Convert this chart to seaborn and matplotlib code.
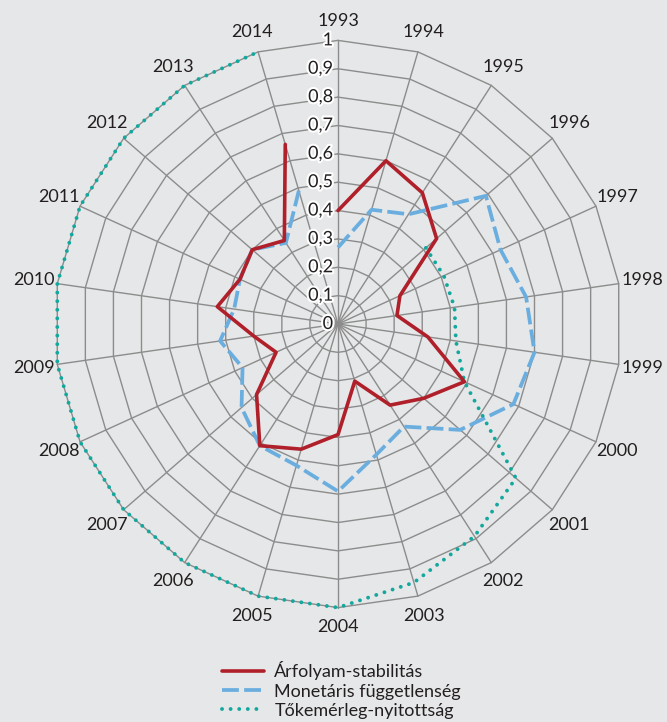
import numpy as np
import pandas as pd
import matplotlib
matplotlib.use("Agg")
import matplotlib.pyplot as plt
import matplotlib.patheffects as pe
import matplotlib.transforms as mtransforms
import seaborn as sns

# ---------------- data ----------------
years = [str(y) for y in range(1993, 2015)]
arfolyam = [0.40, 0.60, 0.55, 0.46, 0.24, 0.21, 0.32, 0.49, 0.40, 0.34, 0.21,
            0.39, 0.46, 0.51, 0.38, 0.24, 0.30, 0.43, 0.38, 0.40, 0.35, 0.66]
monetaris = [0.27, 0.42, 0.46, 0.69, 0.63, 0.67, 0.70, 0.68, 0.57, 0.43, 0.48,
             0.59, 0.52, 0.51, 0.45, 0.37, 0.42, 0.37, 0.38, 0.40, 0.34, 0.49]
tokemerleg = [np.nan, np.nan, np.nan, 0.41, 0.41, 0.415, 0.42, 0.49, 0.83, 0.89, 0.95,
              1.0, 1.0, 1.0, 1.0, 1.0, 1.0, 1.0, 1.0, 1.0, 1.0, 1.0]
series_names = ["Árfolyam-stabilitás", "Monetáris függetlenség", "Tőkemérleg-nyitottság"]
r_ticks = [0, 0.1, 0.2, 0.3, 0.4, 0.5, 0.6, 0.7, 0.8, 0.9, 1.0]
r_tick_labels = ["0", "0,1", "0,2", "0,3", "0,4", "0,5", "0,6", "0,7", "0,8", "0,9", "1"]

# ---------------- style ----------------
sns.set_style("white")
plt.rcParams["font.family"] = ["Lato", "DejaVu Sans"]
BG = "#e6e7e8"
GRID = "#8c8c8c"
TXT = "#231f20"
colors = ["#b0202a", "#6aaee0", "#13a89e"]

n = len(years)
theta = np.arange(n) * 2 * np.pi / n
df = pd.DataFrame({"theta": theta, "year": years,
                   series_names[0]: arfolyam,
                   series_names[1]: monetaris,
                   series_names[2]: tokemerleg})

fig = plt.figure(figsize=(6.67, 7.22), dpi=100, facecolor=BG)
cx, cy, R = 338, 324, 283.6
W, H = 667, 722
ax = fig.add_axes([(cx - R) / W, (H - cy - R) / H, 2 * R / W, 2 * R / H], projection="polar")
ax.set_theta_zero_location("N")
ax.set_theta_direction(-1)
ax.set_ylim(0, 1)
ax.grid(False)
ax.set_xticks([])
ax.set_yticks([])
ax.spines["polar"].set_visible(False)
ax.patch.set_visible(False)

# polygon grid
theta_closed = np.append(theta, theta[0])
for r in r_ticks[1:]:
    ax.plot(theta_closed, [r] * len(theta_closed), color=GRID, lw=1.0, zorder=1, clip_on=False)
for t in theta:
    ax.plot([t, t], [0, 1], color=GRID, lw=1.0, zorder=1, clip_on=False)

# series
sns.lineplot(data=df, x="theta", y=series_names[0], ax=ax, color=colors[0], lw=2.6,
             sort=False, label=series_names[0], zorder=4, clip_on=False)
sns.lineplot(data=df, x="theta", y=series_names[1], ax=ax, color=colors[1], lw=2.7,
             sort=False, label=series_names[1], zorder=3, clip_on=False,
             linestyle=(0, (4.5, 1.4)))
sns.lineplot(data=df, x="theta", y=series_names[2], ax=ax, color=colors[2], lw=2.8,
             sort=False, label=series_names[2], zorder=3, clip_on=False,
             linestyle=(0, (0.01, 2.2)), dash_capstyle="round")
ax.set_xlabel("")
ax.set_ylabel("")
if ax.get_legend() is not None:
    ax.get_legend().remove()
ax.set_ylim(0, 1)

# radial tick labels
off = mtransforms.offset_copy(ax.transData, fig=fig, x=-5, y=0, units="dots")
for v, lab in zip(r_ticks, r_tick_labels):
    ax.text(0, v, lab, transform=off, ha="right", va="center", fontsize=13, color=TXT,
            zorder=5, path_effects=[pe.withStroke(linewidth=3, foreground="white")])

# category labels
for t, y in zip(theta, years):
    rr = 1.07 + 0.013 * abs(np.sin(t))
    ax.text(t, rr, y, ha="center", va="center", fontsize=13, color=TXT)

handles, labels = ax.get_legend_handles_labels()
leg = fig.legend(handles, labels, loc="center", bbox_to_anchor=(0.512, 1 - 690 / H),
                 frameon=False, fontsize=13, handlelength=2.3, handletextpad=0.6,
                 labelspacing=0.18, borderpad=0)
for txt in leg.get_texts():
    txt.set_color(TXT)

fig.savefig("out.png", dpi=100, facecolor=BG)
